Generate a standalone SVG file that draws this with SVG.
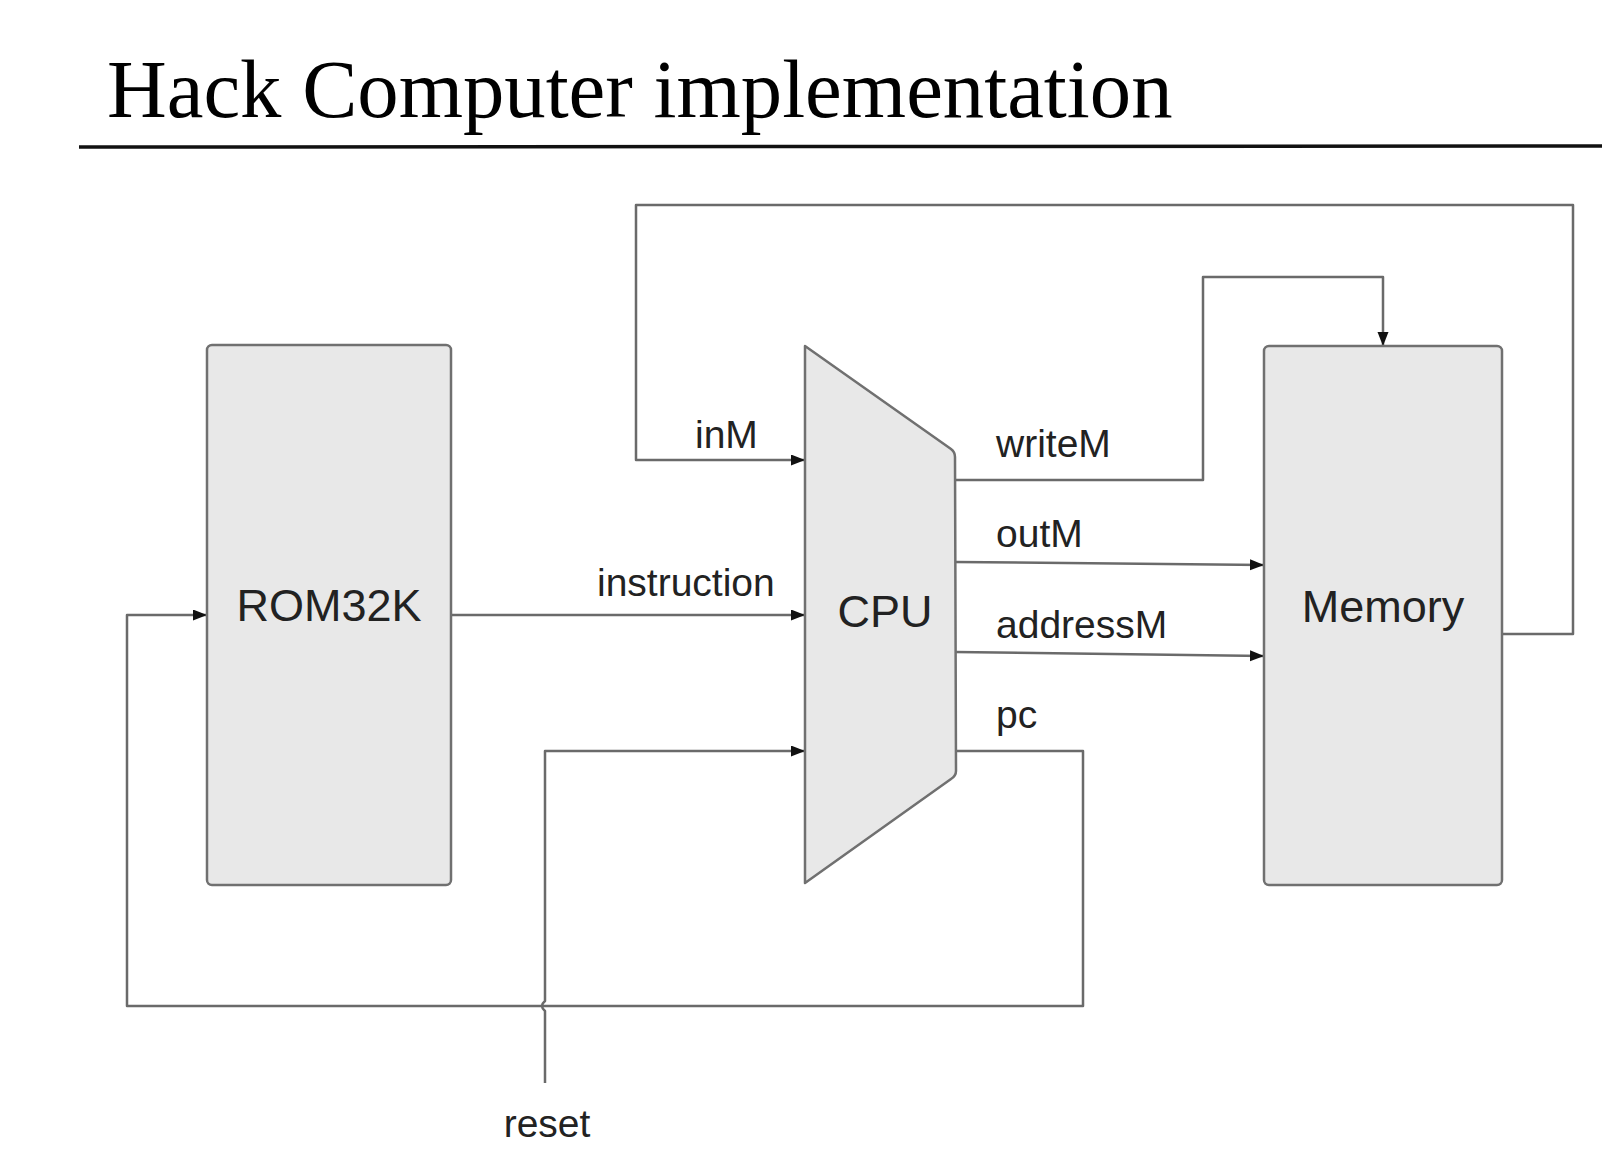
<svg xmlns="http://www.w3.org/2000/svg" width="1602" height="1168" viewBox="0 0 1602 1168">
  <style>
    .box { fill: #e8e8e8; stroke: #707070; stroke-width: 2.5; }
    .wire { fill: none; stroke: #6a6a6a; stroke-width: 2.5; stroke-linejoin: round; }
    .lbl { font-family: "Liberation Sans", Arial, sans-serif; font-size: 39px; fill: #222; }
    .name { font-family: "Liberation Sans", Arial, sans-serif; font-size: 45px; fill: #222; text-anchor: middle; }
    .title { font-family: "Liberation Serif", "Times New Roman", serif; font-size: 82.7px; fill: #000; }
  </style>
  <defs>
    <marker id="arrow" markerUnits="userSpaceOnUse" markerWidth="15" markerHeight="12" refX="14" refY="5.5" orient="auto">
      <path d="M0,0 L14,5.5 L0,11 z" fill="#111"/>
    </marker>
  </defs>
  <rect width="1602" height="1168" fill="#ffffff"/>

  <g id="title">
    <text class="title" x="107" y="117">Hack Computer implementation</text>
    <line x1="79" y1="147" x2="1602" y2="146" stroke="#111" stroke-width="3.5"/>
  </g>

  <g id="connectors">
    <path class="wire" d="M1502,634 H1573 V205 H636 V460 H805" marker-end="url(#arrow)"/>
    <path class="wire" d="M451,615 H805" marker-end="url(#arrow)"/>
    <path class="wire" d="M955,480 H1203 V277 H1383 V346" marker-end="url(#arrow)"/>
    <path class="wire" d="M955,562 L1264,565" marker-end="url(#arrow)"/>
    <path class="wire" d="M955,652 L1264,656" marker-end="url(#arrow)"/>
    <path class="wire" d="M955,751 H1083 V1006 H127 V615 H207" marker-end="url(#arrow)"/>
    <path class="wire" d="M545,1083 V1011 Q539,1006 545,1001 V751 H805" marker-end="url(#arrow)"/>
  </g>

  <g id="rom">
    <rect class="box" x="207" y="345" width="244" height="540" rx="5"/>
    <text class="name" x="329" y="621">ROM32K</text>
  </g>

  <g id="cpu">
    <path class="box" d="M805,346 L951,449 Q955,452 955,457 L956,771 Q956,776 951,779 L805,883 Z" stroke-linejoin="round"/>
    <text class="name" x="885" y="627" font-size="48">CPU</text>
  </g>

  <g id="memory">
    <rect class="box" x="1264" y="346" width="238" height="539" rx="5"/>
    <text class="name" x="1383" y="622">Memory</text>
  </g>

  <g id="labels">
    <text class="lbl" x="695" y="448">inM</text>
    <text class="lbl" x="597" y="596">instruction</text>
    <text class="lbl" x="996" y="457">writeM</text>
    <text class="lbl" x="996" y="547">outM</text>
    <text class="lbl" x="996" y="638">addressM</text>
    <text class="lbl" x="996" y="728">pc</text>
    <text class="lbl" x="547" y="1137" text-anchor="middle">reset</text>
  </g>
</svg>
